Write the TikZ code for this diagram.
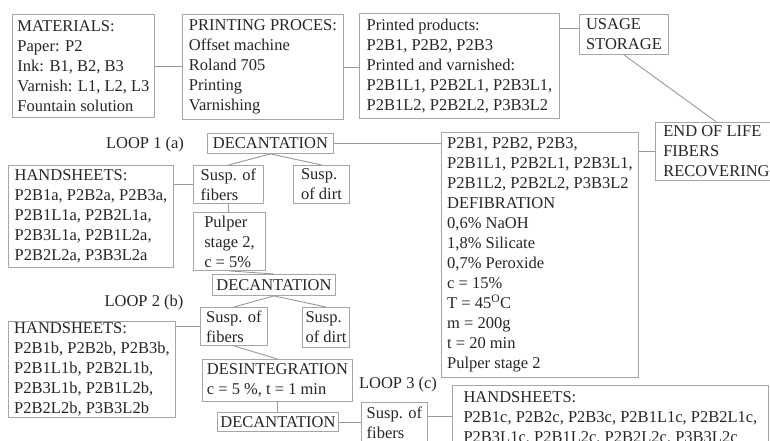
\documentclass[tikz,border=0pt]{standalone}
\usepackage{fontspec}
\setmainfont{Liberation Serif}
\begin{document}
\begin{tikzpicture}[
    x=1pt, y=-1pt,
    box/.style={draw=gray!70, line width=0.9pt, anchor=north west, align=left,
        inner xsep=3pt, inner ysep=1pt, text=black!85,
        font=\fontsize{16.5}{20}\selectfont},
    link/.style={draw=gray!80, line width=0.9pt},
    looplabel/.style={font=\fontsize{16.5}{20}\selectfont, text=black!85}
]
    \useasboundingbox (0,0) rectangle (770,440);
    \fill[white] (0,0) rectangle (770,440);

    % Top row
    \node[box, minimum width=142, minimum height=103] (mat) at (12,14)
        {MATERIALS:\\Paper: P2\\Ink: B1, B2, B3\\Varnish: L1, L2, L3\\Fountain solution};
    \node[box, minimum width=161, minimum height=105] (proc) at (182,14)
        {PRINTING PROCES:\\Offset machine\\Roland 705\\Printing\\Varnishing};
    \node[box, minimum width=200, minimum height=105] (prod) at (359,13)
        {Printed products:\\P2B1, P2B2, P2B3\\Printed and varnished:\\P2B1L1, P2B2L1, P2B3L1,\\P2B1L2, P2B2L2, P3B3L2};
    \node[box, minimum width=89, minimum height=40] (usage) at (579,14)
        {USAGE\\STORAGE};
    \node[box, minimum width=122, minimum height=58] (eol) at (655,122)
        {END OF LIFE\\FIBERS\\RECOVERING};

    % Defibration
    \node[box, minimum width=197, minimum height=245] (defib) at (441,132)
        {P2B1, P2B2, P2B3,\\P2B1L1, P2B2L1, P2B3L1,\\P2B1L2, P2B2L2, P3B3L2\\DEFIBRATION\\0,6\% NaOH\\1,8\% Silicate\\0,7\% Peroxide\\c = 15\%\\T = 45\textsuperscript{O}C\\m = 200g\\t = 20 min\\Pulper stage 2};

    % Loop 1
    \node[looplabel] (loopa) at (145,145) {LOOP 1 (a)};
    \node[box, minimum width=126, minimum height=20] (dec1) at (207,133) {DECANTATION};
    \node[box, minimum width=70, minimum height=38] (fib1) at (193,165) {Susp. of\\fibers};
    \node[box, minimum width=56, minimum height=38] (dirt1) at (293,165) {Susp.\\of dirt};
    \node[box, minimum width=165, minimum height=102] (hand1) at (8,165)
        {HANDSHEETS:\\P2B1a, P2B2a, P2B3a,\\P2B1L1a, P2B2L1a,\\P2B3L1a, P2B1L2a,\\P2B2L2a, P3B3L2a};
    \node[box, minimum width=72, minimum height=58] (pulp) at (193,212)
        {Pulper\\stage 2,\\c = 5\%};

    % Loop 2
    \node[box, minimum width=123, minimum height=21] (dec2) at (212,274) {DECANTATION};
    \node[looplabel] (loopb) at (144,303) {LOOP 2 (b)};
    \node[box, minimum width=67, minimum height=38] (fib2) at (200,307) {Susp. of\\fibers};
    \node[box, minimum width=47, minimum height=40] (dirt2) at (302,307) {Susp.\\of dirt};
    \node[box, minimum width=167, minimum height=96] (hand2) at (8,321)
        {HANDSHEETS:\\P2B1b, P2B2b, P2B3b,\\P2B1L1b, P2B2L1b,\\P2B3L1b, P2B1L2b,\\P2B2L2b, P3B3L2b};
    \node[box, minimum width=150, minimum height=42] (desint) at (202,359)
        {DESINTEGRATION\\c = 5 \%, t = 1 min};

    % Loop 3
    \node[looplabel] (loopc) at (398,385) {LOOP 3 (c)};
    \node[box, minimum width=120, minimum height=19] (dec3) at (217,412) {DECANTATION};
    \node[box, minimum width=66, minimum height=40] (fib3) at (361,402) {Susp. of\\fibers};
    \node[box, minimum width=316, minimum height=65] (hand3) at (452,385)
        {HANDSHEETS:\\P2B1c, P2B2c, P2B3c, P2B1L1c, P2B2L1c,\\P2B3L1c, P2B1L2c, P2B2L2c, P3B3L2c};

    % Lines
    \draw[link] (mat.east) -- (mat.east -| proc.west);
    \draw[link] (proc.east) -- (proc.east -| prod.west);
    \draw[link] ([yshift=6pt]usage.west) -- ([yshift=6pt]usage.west -| prod.east);
    \draw[link] (usage.south) -- (eol.north);
    \draw[link] (eol.west) -- (eol.west -| defib.east);
    \draw[link] (dec1.east) -- (dec1.east -| defib.west);
    \draw[link] (dec1.south) -- (fib1.north);
    \draw[link] (dec1.south) -- (dirt1.north);
    \draw[link] (fib1.west) -- (fib1.west -| hand1.east);
    \draw[link] (fib1.south) -- (fib1.south |- pulp.north);
    \draw[link] (pulp.south) -- (dec2.north);
    \draw[link] (dec2.south) -- (fib2.north);
    \draw[link] (dec2.south) -- (dirt2.north);
    \draw[link] (fib2.west) -- (fib2.west -| hand2.east);
    \draw[link] (fib2.south) -- (desint.north);
    \draw[link] (desint.south) -- (desint.south |- dec3.north);
    \draw[link] (dec3.east) -- (dec3.east -| fib3.west);
    \draw[link] ([yshift=6pt]fib3.east) -- ([yshift=6pt]fib3.east -| hand3.west);
\end{tikzpicture}
\end{document}
